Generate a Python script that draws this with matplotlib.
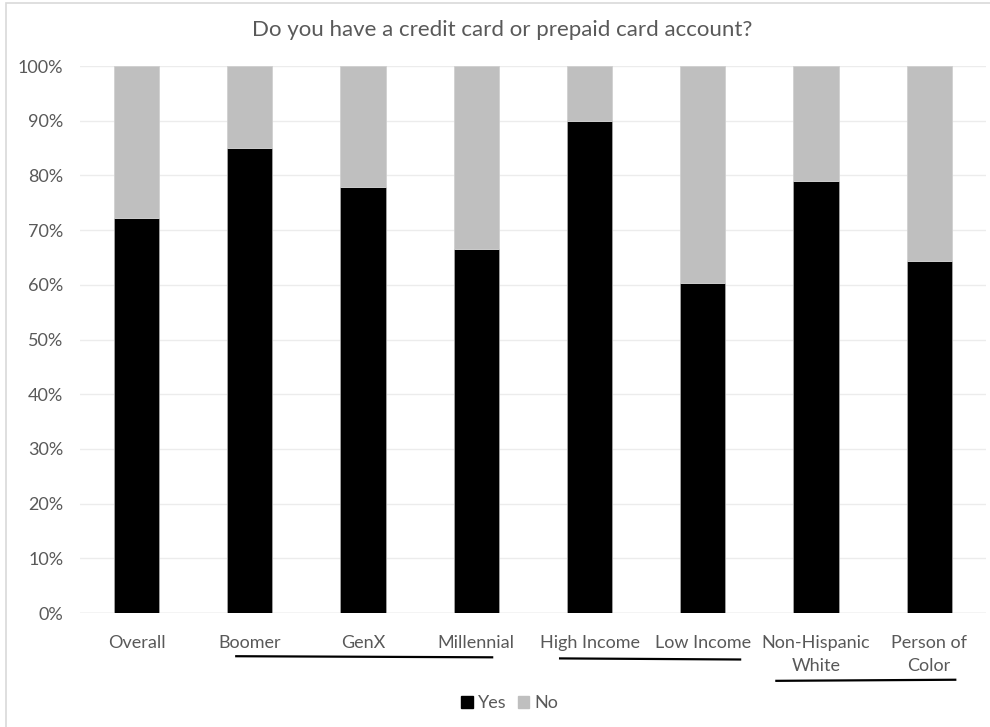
import matplotlib
matplotlib.use("Agg")
import matplotlib.pyplot as plt
import matplotlib.patches as mpatches
import numpy as np

# data
categories = ["Overall", "Boomer", "GenX", "Millennial", "High Income",
              "Low Income", "Non-Hispanic\nWhite", "Person of\nColor"]
yes = [72.2, 85.0, 77.9, 66.5, 89.9, 60.3, 79.0, 64.4]
no = [100 - v for v in yes]
series_names = ["Yes", "No"]
title = "Do you have a credit card or prepaid card account?"

plt.rcParams['font.family'] = ['Lato', 'DejaVu Sans']
grey_txt = "#595959"

fig = plt.figure(figsize=(9.9, 7.27), dpi=100)
ax = fig.add_axes([0.0808, 0.1568, 0.915, 0.7524])

x = np.arange(len(categories))
ax.bar(x, yes, 0.4, color="black", edgecolor="#a6a6a6", linewidth=0.6,
       label=series_names[0], zorder=3)
ax.bar(x, no, 0.4, bottom=yes, color="#bfbfbf", edgecolor="#d0d0d0",
       linewidth=0.6, label=series_names[1], zorder=3)

ax.set_xlim(-0.5, len(categories) - 0.5)
ax.set_ylim(0, 100)
ax.set_yticks(np.arange(0, 101, 10))
ax.set_yticklabels([f"{v}%" for v in range(0, 101, 10)])
ax.set_xticks(x)
ax.set_xticklabels(categories, linespacing=1.5)
ax.tick_params(axis='both', length=0, colors=grey_txt, labelsize=13)
ax.tick_params(axis='y', pad=12)
ax.tick_params(axis='x', pad=16)
ax.grid(axis='y', color="#ececec", linewidth=1, zorder=0)
for s in ax.spines.values():
    s.set_visible(False)
ax.axhline(0, color="#d9d9d9", linewidth=1, zorder=2)

# group underlines
for x0, x1, y0, y1 in [(0.88, 3.14, -0.079, -0.081),
                       (3.74, 5.33, -0.083, -0.085),
                       (5.65, 7.23, -0.124, -0.122)]:
    ax.plot([x0, x1], [y0, y1], color="black", linewidth=1.6,
            transform=ax.get_xaxis_transform(), clip_on=False)

fig.text(0.507, 0.959, title, ha="center", va="center", fontsize=16,
         color=grey_txt)

handles = [mpatches.Patch(color="black"), mpatches.Patch(color="#bfbfbf")]
fig.legend(handles, series_names, loc="center", bbox_to_anchor=(0.515, 0.033),
           ncol=2, frameon=False, fontsize=13, handlelength=0.65,
           handleheight=0.65, handletextpad=0.3, columnspacing=0.6,
           labelcolor=grey_txt)

# chart frame
fig.patches.append(mpatches.Rectangle((6 / 990, -0.01), 1.0, 1 - 3 / 727 + 0.01,
                                      transform=fig.transFigure, fill=False,
                                      edgecolor="#d9d9d9", linewidth=1.2))

fig.savefig("out.png", dpi=100)
